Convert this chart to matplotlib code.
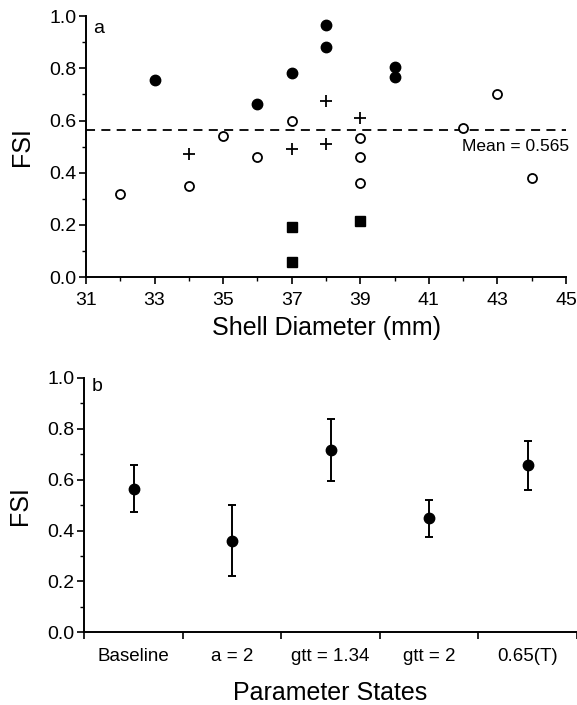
import matplotlib
matplotlib.use('Agg')
import matplotlib.pyplot as plt
from matplotlib.ticker import MultipleLocator, FixedLocator, NullFormatter

plt.rcParams['font.family'] = ['Liberation Sans', 'DejaVu Sans']

# panel a: FSI vs shell diameter, by marker group
filled_x = [33, 36, 37, 38, 38, 40, 40]
filled_y = [0.754, 0.664, 0.783, 0.965, 0.882, 0.806, 0.767]
open_x = [32, 34, 35, 36, 37, 39, 39, 39, 42, 43, 44]
open_y = [0.320, 0.350, 0.540, 0.460, 0.597, 0.532, 0.462, 0.362, 0.573, 0.701, 0.381]
plus_x = [34, 37, 38, 38, 39]
plus_y = [0.471, 0.492, 0.675, 0.509, 0.611]
square_x = [37, 37, 39]
square_y = [0.192, 0.059, 0.215]
mean_fsi = 0.565

# panel b: FSI per parameter state
states = ['Baseline', 'a = 2', 'gtt = 1.34', 'gtt = 2', '0.65(T)']
state_fsi = [0.565, 0.361, 0.717, 0.448, 0.656]
state_err = [0.093, 0.140, 0.122, 0.073, 0.097]

fig = plt.figure(figsize=(5.77, 7.05), dpi=100)
ax1 = fig.add_axes([0.149, 0.607, 0.832, 0.370])
ax2 = fig.add_axes([0.146, 0.103, 0.854, 0.361])

def style(ax):
    for s in ['top', 'right']:
        ax.spines[s].set_visible(False)
    for s in ['left', 'bottom']:
        ax.spines[s].set_linewidth(1.4)
    ax.tick_params(which='major', length=5, width=1.2, labelsize=14, pad=2)
    ax.tick_params(which='minor', length=3, width=1.0)
    ax.set_ylim(0, 1.0)
    ax.yaxis.set_major_locator(MultipleLocator(0.2))
    ax.yaxis.set_minor_locator(MultipleLocator(0.1))
    ax.yaxis.set_major_formatter(plt.FormatStrFormatter('%.1f'))
    ax.set_ylabel('FSI', fontsize=18, labelpad=11)

# --- panel a
style(ax1)
ax1.plot(filled_x, filled_y, 'o', color='black', ms=7.5, ls='none', clip_on=False)
ax1.plot(open_x, open_y, 'o', mfc='white', mec='black', mew=1.3, ms=6.5, ls='none')
ax1.plot(plus_x, plus_y, '+', color='black', mew=1.3, ms=8, ls='none')
ax1.plot(square_x, square_y, 's', color='black', ms=6.5, ls='none')
ax1.axhline(mean_fsi, color='black', lw=1.3, ls=(0, (5, 3.5)), zorder=1)
ax1.text(45.1, 0.50, 'Mean = %.3f' % mean_fsi, fontsize=12.5, ha='right', va='center')
ax1.set_xlim(31, 45)
ax1.xaxis.set_major_locator(FixedLocator(range(31, 46, 2)))
ax1.xaxis.set_minor_locator(FixedLocator(range(32, 45, 2)))
ax1.tick_params(axis='x', which='major', pad=6)
ax1.set_xlabel('Shell Diameter (mm)', fontsize=18, labelpad=5)
ax1.text(0.015, 0.985, 'a', transform=ax1.transAxes, fontsize=14, va='top')

# --- panel b
style(ax2)
xpos = [i + 0.5 for i in range(len(states))]
ax2.errorbar(xpos, state_fsi, yerr=state_err, fmt='o', color='black', ms=7.5,
             elinewidth=1.4, capsize=3, capthick=1.4)
ax2.set_xlim(0, len(states))
ax2.xaxis.set_major_locator(FixedLocator(range(len(states) + 1)))
ax2.xaxis.set_major_formatter(NullFormatter())
ax2.xaxis.set_minor_locator(FixedLocator(xpos))
ax2.set_xticklabels(states, minor=True)
ax2.tick_params(axis='x', which='minor', length=0, labelsize=13.5, pad=11)
ax2.set_xlabel('Parameter States', fontsize=18, labelpad=12)
ax2.text(0.015, 1.0, 'b', transform=ax2.transAxes, fontsize=14, va='top')

fig.savefig('out.png', dpi=100)
